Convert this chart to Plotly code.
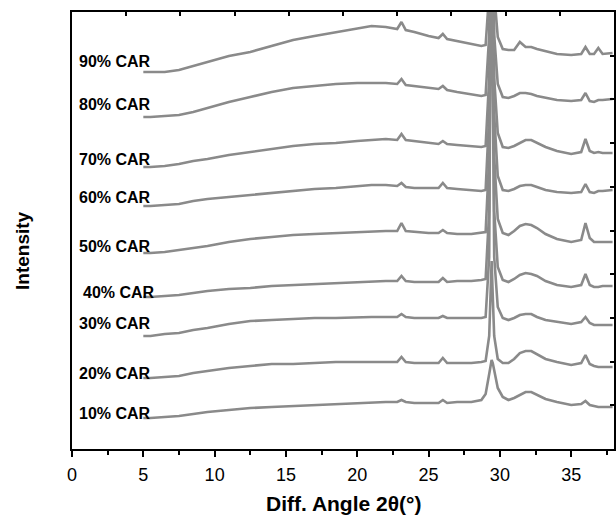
import plotly.graph_objects as go

# diffraction angle sample points (2-theta, degrees)
angle = [5, 5.5, 6.5, 7.5, 8.5, 9.5, 11, 12.5, 14, 15.5, 17, 18.5, 20, 21, 22, 22.8,
         23.1, 23.4, 24, 25, 25.7, 26.0, 26.3, 27, 28, 28.7, 29.0, 29.25, 29.35,
         29.42, 29.5, 29.6, 29.85, 30.2, 30.6, 31.0, 31.4, 31.8, 32.2, 32.6, 33.2,
         34, 35, 35.7, 36.0, 36.3, 36.6, 36.9, 37.2, 37.9]

# stacked intensities (arbitrary units, already offset)
car90 = [378, 378, 378, 380, 384, 388, 394, 398, 404, 410, 414, 418, 422, 424, 423, 421,
         428, 420, 418, 414, 412, 416, 411, 409, 406, 404, 405, 457, 667,
         755, 615, 457, 413, 401, 400, 400, 408, 403, 403, 401, 399,
         396, 395, 396, 403, 396, 396, 402, 396, 397]
car80 = [333, 333, 334, 335, 338, 342, 348, 353, 358, 362, 364, 366, 367, 367, 367, 366,
         371, 365, 364, 362, 361, 364, 360, 358, 356, 354, 355, 415, 655,
         755, 595, 415, 366, 353, 352, 354, 357, 357, 356, 354, 352,
         350, 349, 350, 357, 349, 348, 350, 350, 351]
car70 = [283, 283, 284, 286, 289, 291, 295, 298, 301, 304, 306, 307, 309, 310, 311, 310,
         316, 310, 309, 307, 306, 309, 306, 305, 304, 303, 304, 372, 642,
         754, 574, 372, 317, 303, 302, 304, 307, 310, 310, 307, 303,
         299, 296, 298, 311, 299, 297, 298, 297, 297]
car60 = [244, 244, 245, 246, 249, 251, 253, 255, 257, 259, 261, 262, 264, 265, 265, 264,
         267, 263, 262, 262, 262, 267, 262, 261, 260, 259, 260, 335, 635,
         760, 560, 335, 274, 260, 259, 261, 264, 265, 265, 263, 260,
         258, 257, 258, 266, 258, 257, 259, 259, 260]
car50 = [197, 197, 198, 200, 202, 204, 208, 211, 213, 215, 216, 217, 218, 219, 219, 219,
         227, 219, 218, 217, 217, 220, 217, 216, 216, 217, 218, 293, 593,
         718, 518, 293, 231, 217, 215, 219, 224, 226, 225, 222, 216,
         211, 208, 210, 227, 212, 208, 208, 208, 208]
car40 = [153, 153, 154, 155, 157, 159, 161, 162, 164, 165, 166, 167, 168, 169, 169, 169,
         174, 169, 168, 168, 168, 172, 168, 169, 169, 170, 171, 239, 509,
         621, 441, 239, 183, 170, 168, 171, 175, 177, 176, 174, 169,
         165, 163, 165, 176, 165, 163, 163, 164, 164]
car30 = [114, 114, 116, 117, 120, 122, 126, 129, 130, 131, 132, 132, 133, 133, 133, 133,
         136, 133, 132, 132, 132, 134, 132, 132, 132, 132, 133, 193, 433,
         533, 373, 193, 143, 132, 130, 132, 135, 136, 136, 133, 130,
         128, 126, 128, 133, 127, 125, 125, 125, 125]
car20 = [72, 72, 73, 74, 77, 79, 82, 84, 86, 86, 87, 88, 88, 88, 88, 88,
         93, 88, 87, 87, 87, 92, 87, 87, 87, 88, 89, 114, 164,
         189, 154, 114, 91, 87, 87, 91, 97, 99, 99, 96, 91,
         88, 85, 87, 95, 86, 84, 83, 83, 83]
car10 = [32, 32, 33, 34, 36, 38, 40, 42, 43, 44, 45, 46, 47, 47, 48, 48,
         50, 48, 47, 47, 47, 50, 47, 48, 48, 50, 56, 76, 87,
         90, 87, 79, 62, 53, 50, 52, 55, 58, 58, 55, 51,
         48, 45, 46, 49, 45, 44, 43, 43, 43]

series_names = ["90% CAR", "80% CAR", "70% CAR", "60% CAR", "50% CAR",
                "40% CAR", "30% CAR", "20% CAR", "10% CAR"]
series_vals = [car90, car80, car70, car60, car50, car40, car30, car20, car10]

x_ticks = [0, 5, 10, 15, 20, 25, 30, 35]

# label placement (style)
label_y_px = [62, 105, 159, 197, 247, 292, 324, 373, 413]
label_x_px = [77, 77, 77, 77, 77, 81, 77, 77, 77]

W, H = 616, 517
ml, mr, mt, mb = 72, 2, 12, 68
pw, ph = W - ml - mr, H - mt - mb

LINE = "#8a8a8a"
FONT = "Liberation Sans, Arial, sans-serif"

fig = go.Figure()
for name, vals in zip(series_names, series_vals):
    fig.add_trace(go.Scatter(x=angle, y=vals, mode="lines", name=name,
                             line=dict(color=LINE, width=2.6), showlegend=False,
                             hoverinfo="skip"))
# dummy trace for the frame axes (top/right)
fig.add_trace(go.Scatter(x=[None], y=[None], xaxis="x2", yaxis="y2",
                         showlegend=False, hoverinfo="skip"))

annotations = []
for name, py, px in zip(series_names, label_y_px, label_x_px):
    annotations.append(dict(
        text="<b>%s</b>" % name, xref="paper", yref="paper",
        x=(px - ml) / pw, y=(H - mb - py) / ph, xanchor="left", yanchor="middle",
        showarrow=False, font=dict(family=FONT, size=16, color="black")))
annotations.append(dict(
    text="<b>Diff. Angle 2θ(°)</b>", xref="paper", yref="paper",
    x=0.5, y=(H - mb - 503) / ph, xanchor="center", yanchor="middle",
    showarrow=False, font=dict(family=FONT, size=21, color="black")))
annotations.append(dict(
    text="<b>Intensity</b>", xref="paper", yref="paper",
    x=(22 - ml) / pw, y=(H - mb - 251) / ph, xanchor="center", yanchor="middle",
    textangle=-90, showarrow=False, font=dict(family=FONT, size=19, color="black")))

fig.update_layout(
    width=W, height=H, margin=dict(l=ml, r=mr, t=mt, b=mb),
    paper_bgcolor="white", plot_bgcolor="white",
    font=dict(family=FONT, color="black"),
    xaxis=dict(range=[0, 38], tickvals=x_ticks, ticks="outside", ticklen=6,
               tickwidth=1.5, tickcolor="black",
               minor=dict(dtick=2.5, ticks="outside", ticklen=4, tickwidth=1.5,
                          tickcolor="black", showgrid=False),
               showline=True, linecolor="black", linewidth=1.5, showgrid=False,
               zeroline=False, tickfont=dict(size=18, family=FONT),
               ticklabelstandoff=3),
    yaxis=dict(range=[1, 438], showticklabels=False, ticks="", showline=True,
               linecolor="black", linewidth=1.5, showgrid=False, zeroline=False),
    xaxis2=dict(overlaying="x", side="top", range=[0, 10], dtick=1,
                ticks="inside", ticklen=4, tickwidth=1.5, tickcolor="black",
                showticklabels=False, showline=True, linecolor="black",
                linewidth=1.5, showgrid=False, zeroline=False),
    yaxis2=dict(overlaying="y", side="right", range=[0, 10], dtick=1,
                ticks="inside", ticklen=4, tickwidth=1.5, tickcolor="black",
                showticklabels=False, showline=True, linecolor="black",
                linewidth=1.5, showgrid=False, zeroline=False),
    annotations=annotations,
)

fig.write_html("out.html")
